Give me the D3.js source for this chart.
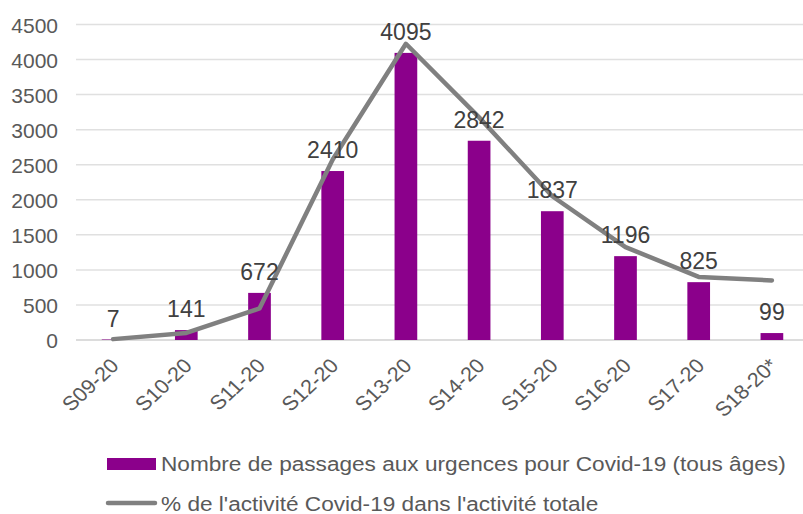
<!DOCTYPE html>
<html lang="fr">
  <head>
    <meta charset="UTF-8" />
    <script src="https://d3js.org/d3.v7.min.js"></script>
    <title>Passages aux urgences Covid-19</title>
    <style>
      body {
        margin: 0;
        background: #fff;
      }
      svg text {
        font-family: "Liberation Sans", Arial, sans-serif;
      }
      .tick-label {
        fill: #595959;
        font-size: 21px;
      }
      .data-label {
        fill: #404040;
        font-size: 23px;
      }
      .legend-text {
        fill: #595959;
        font-size: 19.5px;
      }
    </style>
  </head>
  <body>
    <svg id="chart" width="803" height="514"></svg>

    <script>
      // weeks
      const weeks = ["S09-20", "S10-20", "S11-20", "S12-20", "S13-20",
        "S14-20", "S15-20", "S16-20", "S17-20", "S18-20*"];
      // number of emergency visits for Covid-19
      const passages = [7, 141, 672, 2410, 4095, 2842, 1837, 1196, 825, 99];
      // share of Covid-19 activity in total activity (%)
      const pctActivite = [0.05, 0.4, 1.8, 10.3, 16.9, 12.7, 8.2, 5.3, 3.6, 3.4];
      const yTicks = [0, 500, 1000, 1500, 2000, 2500, 3000, 3500, 4000, 4500];

      const legendLabels = [
        "Nombre de passages aux urgences pour Covid-19 (tous âges)",
        "% de l'activité Covid-19 dans l'activité totale",
      ];

      const svg = d3.select("#chart");

      const x = d3.scaleBand().domain(weeks).range([76.5, 808.5]).padding(0);
      const y = d3.scaleLinear().domain([0, 4500]).range([340, 24.5]);
      // hidden secondary axis for the percentage line
      const y2 = d3.scaleLinear().domain([0, 18]).range([340, 24.5]);

      const barW = x.bandwidth() * 0.31;

      // gridlines
      svg
        .append("g")
        .selectAll("line")
        .data(yTicks)
        .enter()
        .append("line")
        .attr("x1", 76)
        .attr("x2", 803)
        .attr("y1", (d) => y(d))
        .attr("y2", (d) => y(d))
        .style("stroke", (d) => (d === 0 ? "#d0d0d0" : "#e0e0e0"))
        .style("stroke-width", 1.5);

      // y axis (labels only)
      const yAxis = svg
        .append("g")
        .attr("transform", "translate(58,0)")
        .call(
          d3.axisLeft(y).tickValues(yTicks).tickFormat(d3.format("d"))
            .tickSize(0).tickPadding(0)
        );
      yAxis.select(".domain").remove();
      yAxis
        .selectAll("text")
        .attr("class", "tick-label")
        .attr("fill", null)
        .attr("font-size", null)
        .attr("font-family", null)
        .attr("dy", "0.36em");

      // bars
      svg
        .selectAll(".bar")
        .data(weeks)
        .enter()
        .append("rect")
        .attr("class", "bar")
        .attr("x", (d) => x(d) + x.bandwidth() / 2 - barW / 2)
        .attr("y", (d, i) => y(passages[i]))
        .attr("width", barW)
        .attr("height", (d, i) => y(0) - y(passages[i]))
        .style("fill", "#8b008b");

      // line
      const line = d3
        .line()
        .x((d, i) => x(weeks[i]) + x.bandwidth() / 2)
        .y((d) => y2(d));

      svg
        .append("path")
        .datum(pctActivite)
        .attr("d", line)
        .style("fill", "none")
        .style("stroke", "#808080")
        .style("stroke-width", 4.5)
        .style("stroke-linejoin", "round")
        .style("stroke-linecap", "round");

      // data labels
      svg
        .selectAll(".data-label")
        .data(weeks)
        .enter()
        .append("text")
        .attr("class", "data-label")
        .attr("x", (d) => x(d) + x.bandwidth() / 2)
        .attr("y", (d, i) => y(passages[i]) - 13)
        .style("text-anchor", "middle")
        .text((d, i) => passages[i]);

      // x axis labels
      const xAxis = svg
        .append("g")
        .attr("transform", "translate(0,341)")
        .call(d3.axisBottom(x).tickSize(0).tickPadding(0));
      xAxis.select(".domain").remove();
      xAxis
        .selectAll("text")
        .attr("class", "tick-label")
        .attr("fill", null)
        .attr("font-size", null)
        .attr("font-family", null)
        .style("font-size", "20px")
        .attr("dy", null)
        .attr("y", 0)
        .style("text-anchor", "end")
        .attr("transform", "translate(7,26) scale(1.08,1) rotate(-45)");

      // legend
      const legend = svg.append("g");
      legend
        .append("rect")
        .attr("x", 107)
        .attr("y", 458)
        .attr("width", 49)
        .attr("height", 12)
        .style("fill", "#8b008b");
      legend
        .append("line")
        .attr("x1", 108)
        .attr("x2", 155)
        .attr("y1", 503)
        .attr("y2", 503)
        .style("stroke", "#808080")
        .style("stroke-width", 4.5)
        .style("stroke-linecap", "round");
      legend
        .selectAll(".legend-text")
        .data(legendLabels)
        .enter()
        .append("text")
        .attr("class", "legend-text")
        .attr("transform", (d, i) => `translate(161,${471 + i * 40}) scale(1.16,1)`)
        .text((d) => d);
    </script>
  </body>
</html>
